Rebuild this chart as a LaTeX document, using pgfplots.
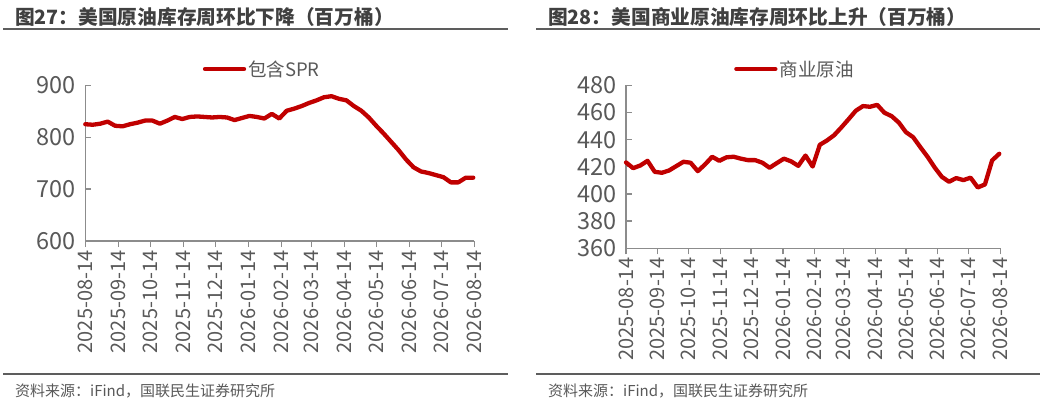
\documentclass[border=0pt]{standalone}
\usepackage{fontspec}
\setmainfont{Noto Sans CJK SC}
\usepackage{pgfplots}
\usepackage{pgfplotstable}
\pgfplotsset{compat=1.18}
\definecolor{lred}{HTML}{C00000}
\definecolor{tgray}{HTML}{404040}
\definecolor{agray}{HTML}{8C8C8C}
\definecolor{lgray}{HTML}{595959}

\pgfplotstableread{
x y
0 825
7 824
14 826
21 830
28 822
35 821
42 825
49 828
56 832
63 832
70 826
77 832
84 839
91 835
98 839
105 840
112 839
119 838
126 839
133 838
140 833
147 837
154 841
161 839
168 836
175 845
182 836
189 851
196 855
203 860
210 866
217 871
224 877
231 879
238 874
245 871
252 860
259 851
266 838
273 822
280 807
287 791
294 775
301 757
308 742
315 734
322 731
329 727
336 723
343 713
350 713
357 722
364 722
}\spr

\pgfplotstableread{
x y
0 423.2
7 419
14 421
21 424.4
28 416.3
35 415.6
42 417.3
49 420.5
56 423.7
63 423
70 416.8
77 421.7
84 427.4
91 424.4
98 427
105 427.4
112 426
119 424.9
126 424.9
133 423
140 419.3
147 422.7
154 426
161 424
168 420.7
175 428.3
182 420.2
189 436.2
196 439.4
203 443.3
210 449
217 455
224 461.2
231 464.7
238 464.2
245 465.6
252 459.8
259 457.3
266 452.6
273 445.5
280 441.8
287 434.5
294 427.4
301 419.5
308 412.6
315 409
322 411.7
329 410.2
336 412
343 404.8
350 407
357 424.7
364 429.6
}\comm

\pgfplotsset{
  mystyle/.style={
    scale only axis,
    axis x line*=bottom,
    axis y line*=left,
    xmin=0, xmax=365,
    xtick={0,31,61,92,122,153,184,212,243,273,304,334,365},
    xticklabels={2025-08-14,2025-09-14,2025-10-14,2025-11-14,2025-12-14,2026-01-14,2026-02-14,2026-03-14,2026-04-14,2026-05-14,2026-06-14,2026-07-14,2026-08-14},
    x tick label style={rotate=90, anchor=east, font=\fontsize{20}{22}\selectfont, text=lgray},
    y tick label style={font=\fontsize{23.5}{25}\selectfont, text=lgray},
    /pgf/number format/assume math mode=true,
    axis line style={agray, line width=1.3pt},
    tick style={agray, line width=1.3pt},
    tick align=outside,
    major tick length=6pt,
    ytick style={xshift=6pt},
    clip=false,
    legend style={draw=none, fill=none, at={(0,1)}, anchor=west,
      font=\fontsize{18.5}{21}\selectfont, text=lgray, inner sep=0pt,
      /tikz/every odd column/.style={column sep=0pt}},
    legend image code/.code={\draw[#1] (0pt,0pt) -- (39pt,0pt);},
  }
}

\begin{document}
\begin{tikzpicture}
\path[use as bounding box] (0pt,0pt) rectangle (1049pt,405pt);

% titles
\node[anchor=west, inner sep=0pt, text=tgray, font=\bfseries\fontsize{19.7}{22}\selectfont] at (15pt,388pt) {图27：美国原油库存周环比下降（百万桶）};
\node[anchor=west, inner sep=0pt, text=tgray, font=\bfseries\fontsize{19.7}{22}\selectfont] at (548pt,388pt) {图28：美国商业原油库存周环比上升（百万桶）};
\draw[tgray!85, line width=2pt] (3pt,375.7pt) -- (508pt,375.7pt);
\draw[tgray!85, line width=2pt] (536pt,375.7pt) -- (1040pt,375.7pt);
\draw[tgray!85, line width=2pt] (3pt,30.7pt) -- (508pt,30.7pt);
\draw[tgray!85, line width=2pt] (536pt,30.7pt) -- (1040pt,30.7pt);
\node[anchor=west, inner sep=0pt, text=lgray, font=\fontsize{15}{17}\selectfont] at (15pt,14pt) {资料来源：iFind，国联民生证券研究所};
\node[anchor=west, inner sep=0pt, text=lgray, font=\fontsize{15}{17}\selectfont] at (548pt,14pt) {资料来源：iFind，国联民生证券研究所};

\begin{axis}[mystyle,
  at={(85.3pt,164pt)}, anchor=south west,
  width=389pt, height=155.7pt,
  ymin=600, ymax=900, ytick={600,700,800,900},
  legend style={xshift=117.4pt, yshift=16.3pt}]
\addplot[lred, line width=4.3pt, line join=round, line cap=round] table[x=x,y=y] {\spr};
\addlegendentry{包含SPR}
\end{axis}

\begin{axis}[mystyle,
  at={(626pt,156.7pt)}, anchor=south west,
  width=374.3pt, height=163pt,
  ymin=360, ymax=480, ytick={360,380,...,480},
  legend style={xshift=108pt, yshift=16.3pt}]
\addplot[lred, line width=4.3pt, line join=round, line cap=round] table[x=x,y=y] {\comm};
\addlegendentry{商业原油}
\end{axis}
\end{tikzpicture}
\end{document}
